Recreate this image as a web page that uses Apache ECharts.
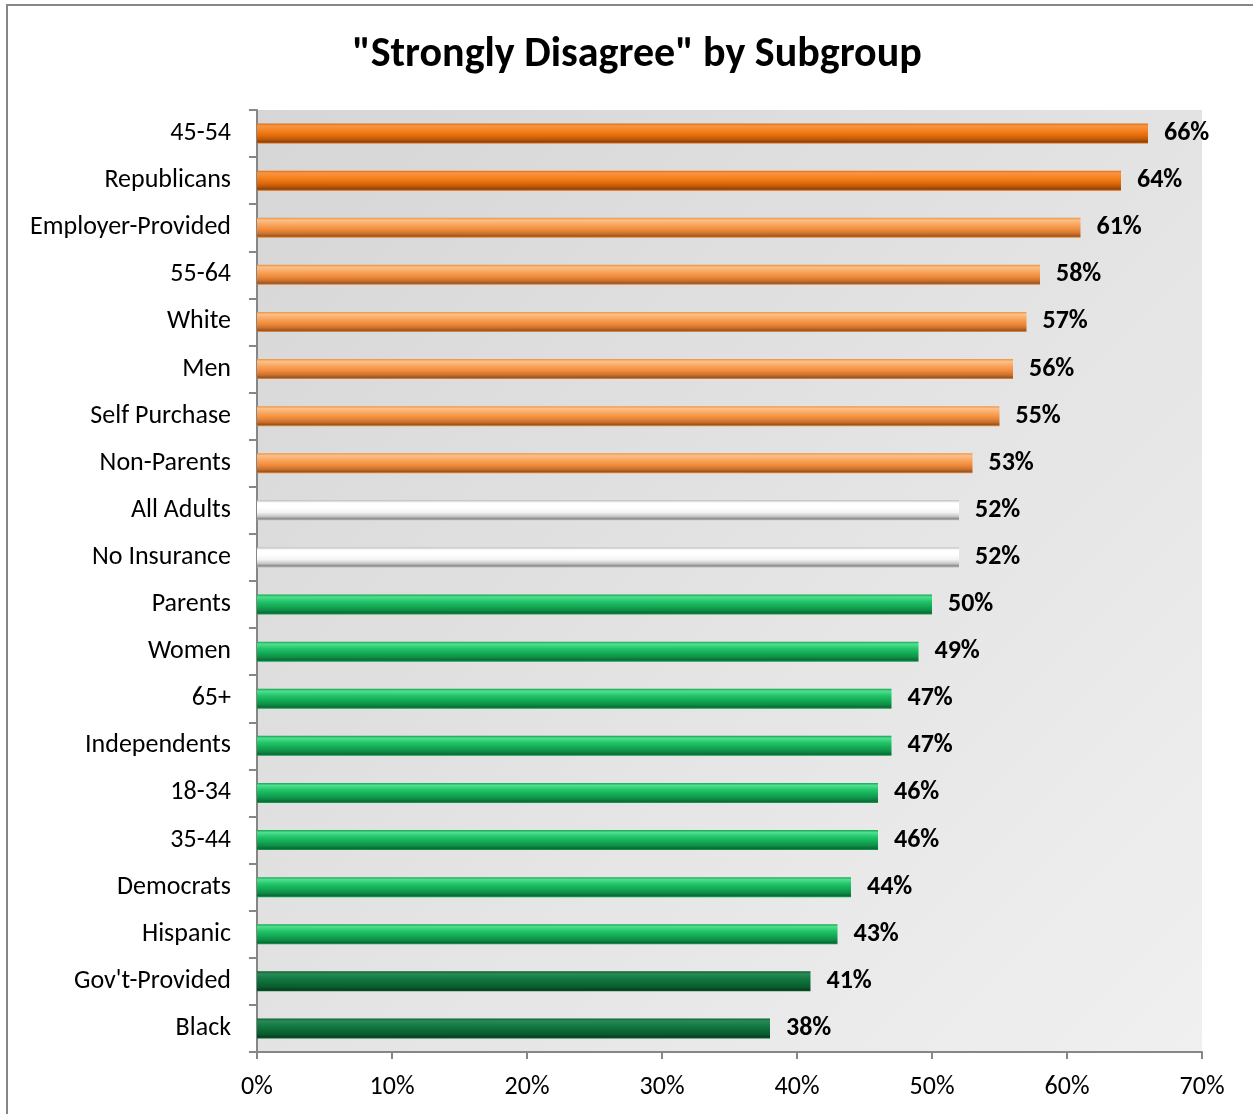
<!DOCTYPE html>
<html><head><meta charset="utf-8">
<script src="https://cdn.jsdelivr.net/npm/echarts@6/dist/echarts.min.js"></script>
<style>html,body{margin:0;padding:0;background:#fff}#c{width:1253px;height:1114px}</style>
</head><body><div id="c"></div>
<script>
const categories = ["45-54","Republicans","Employer-Provided","55-64","White","Men","Self Purchase","Non-Parents","All Adults","No Insurance","Parents","Women","65+","Independents","18-34","35-44","Democrats","Hispanic","Gov't-Provided","Black"];
const values = [66,64,61,58,57,56,55,53,52,52,50,49,47,47,46,46,44,43,41,38];
const colorGroups = ["darkOrange","darkOrange","orange","orange","orange","orange","orange","orange","gray","gray","green","green","green","green","green","green","green","green","darkGreen","darkGreen"];
const xTicks = [0,10,20,30,40,50,60,70];

const palettes = {
  darkOrange: ["#f79646","#f58220","#e46c0a","#b9570a","#8a420c","#e46c0a"],
  orange: ["#fbc08a","#f9a55c","#f08a3a","#c9702e","#9a5522","#f0903c"],
  gray: ["#ffffff","#ffffff","#f4f4f4","#c8c8c8","#8c8c8c","#bdbdbd"],
  green: ["#4fe08f","#22c468","#12a854","#0f8a45","#0b6a35","#15a452"],
  darkGreen: ["#2a8a55","#157a44","#0b6a35","#0a5a2d","#073f20","#0c5e30"]
};
function grad(p){
  return {type:'linear',x:0,y:0,x2:0,y2:1,colorStops:[
    {offset:0,color:p[5]},{offset:0.12,color:p[0]},{offset:0.35,color:p[1]},
    {offset:0.6,color:p[2]},{offset:0.8,color:p[3]},{offset:0.92,color:p[4]},{offset:1,color:p[5]}]};
}
const font = "Carlito, 'Open Sans', 'Noto Sans', sans-serif";
const chart = echarts.init(document.getElementById('c'));
chart.setOption({
  animation:false,
  title:{text:'"Strongly Disagree" by Subgroup',left:632,top:29,textAlign:'center',
    textStyle:{fontFamily:font,fontSize:42,fontWeight:'bold',color:'#000'}},
  graphic:[{type:'rect',shape:{x:7,y:5,width:1300,height:1200},style:{fill:null,stroke:'#868686',lineWidth:2},silent:true}],
  grid:{left:257,right:51,top:110,bottom:62,show:true,borderWidth:0,
    backgroundColor:{type:'linear',x:0,y:0,x2:1,y2:1,colorStops:[{offset:0,color:'#d6d6d6'},{offset:1,color:'#f0f0f0'}]}},
  xAxis:{type:'value',min:0,max:70,interval:10,
    axisLine:{show:true,lineStyle:{color:'#868686',width:2}},
    axisTick:{show:true,length:7,lineStyle:{color:'#868686',width:2}},
    splitLine:{show:false},
    axisLabel:{formatter:function(v){return v+'%';},fontFamily:font,fontSize:26,color:'#000',margin:22}},
  yAxis:{type:'category',data:categories,inverse:true,
    axisLine:{show:true,lineStyle:{color:'#868686',width:2}},
    axisTick:{show:true,length:8,lineStyle:{color:'#868686',width:2}},
    axisLabel:{fontFamily:font,fontSize:26,color:'#000',margin:26,padding:[5,0,0,0]}},
  series:[{type:'bar',barWidth:20,
    data:values.map(function(v,i){return {value:v,itemStyle:{color:grad(palettes[colorGroups[i]])}};}),
    label:{show:true,position:'right',distance:16,formatter:'{c}%',fontFamily:font,fontSize:26,fontWeight:'bold',color:'#000',padding:[5,0,0,0]}}]
});
</script></body></html>
